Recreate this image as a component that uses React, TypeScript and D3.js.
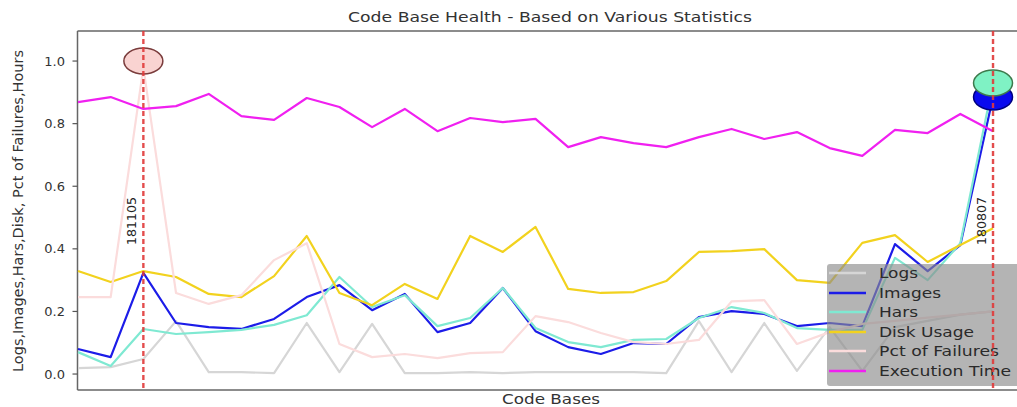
import React from 'react';
import * as d3 from 'd3';

const seriesNames = ['Logs', 'Images', 'Hars', 'Disk Usage', 'Pct of Failures', 'Execution Time'];
const seriesColors = ['#d6d6d6', '#1c1ce8', '#7fe9d2', '#f2d21e', '#fbdcdc', '#f020f0'];

const logs = [0.019, 0.022, 0.048, 0.169, 0.006, 0.006, 0.003, 0.163, 0.006, 0.160, 0.003, 0.003, 0.006, 0.003, 0.006, 0.006, 0.006, 0.006, 0.003, 0.169, 0.006, 0.163, 0.010, 0.150, 0.010, 0.150, 0.170, 0.190, 0.200];
const images = [0.080, 0.054, 0.323, 0.163, 0.150, 0.144, 0.176, 0.246, 0.284, 0.204, 0.256, 0.134, 0.163, 0.275, 0.137, 0.086, 0.064, 0.099, 0.096, 0.182, 0.201, 0.192, 0.153, 0.163, 0.153, 0.415, 0.329, 0.412, 0.885];
const hars = [0.070, 0.026, 0.144, 0.128, 0.134, 0.141, 0.157, 0.188, 0.310, 0.214, 0.252, 0.153, 0.179, 0.275, 0.147, 0.102, 0.086, 0.109, 0.112, 0.179, 0.214, 0.195, 0.147, 0.141, 0.141, 0.371, 0.300, 0.418, 0.930];
const diskUsage = [0.329, 0.294, 0.329, 0.310, 0.256, 0.246, 0.313, 0.441, 0.259, 0.220, 0.288, 0.240, 0.441, 0.390, 0.470, 0.272, 0.259, 0.262, 0.297, 0.390, 0.393, 0.399, 0.300, 0.291, 0.419, 0.444, 0.358, 0.412, 0.466];
const pctFailures = [0.246, 0.246, 0.980, 0.259, 0.224, 0.252, 0.364, 0.418, 0.096, 0.054, 0.064, 0.051, 0.067, 0.070, 0.185, 0.166, 0.131, 0.102, 0.096, 0.109, 0.232, 0.236, 0.096, 0.134, 0.160, 0.170, 0.180, 0.190, 0.200];
const executionTime = [0.869, 0.885, 0.847, 0.856, 0.895, 0.824, 0.812, 0.882, 0.853, 0.789, 0.847, 0.776, 0.818, 0.805, 0.815, 0.725, 0.757, 0.738, 0.725, 0.757, 0.783, 0.751, 0.773, 0.722, 0.697, 0.780, 0.770, 0.831, 0.776];

const yTicks = [0.0, 0.2, 0.4, 0.6, 0.8, 1.0];

const markerIndex = [2, 28];
const markerLabels = ['181105', '180807'];

const W = 1017;
const H = 407;

export default function App() {
  const series = [logs, images, hars, diskUsage, pctFailures, executionTime];
  const left = 77.5, top = 31, bottom = 390;
  const x = d3.scaleLinear().domain([0, 29]).range([78, 1025.7]);
  const y = d3.scaleLinear().domain([-0.051, 1.096]).range([bottom, top]);
  const line = d3.line<number>().x((_, i) => x(i)).y((d) => y(d));

  const font = 'DejaVu Sans, sans-serif';
  const legendY = [273, 293, 312, 332, 351, 371];
  const legendTextLen = [39, 62, 39, 95, 120, 132];

  return (
    <svg width={W} height={H} style={{ position: 'absolute', left: 0, top: 0, background: '#fff' }}>
      {/* spines */}
      <line x1={left} x2={W} y1={top} y2={top} stroke="#666" strokeWidth={1.5} />
      <line x1={left} x2={W} y1={bottom} y2={bottom} stroke="#666" strokeWidth={1.5} />
      <line x1={left} x2={left} y1={top} y2={bottom} stroke="#666" strokeWidth={1.5} />

      {/* y ticks */}
      {yTicks.map((t) => (
        <g key={t}>
          <line x1={left - 5} x2={left} y1={y(t)} y2={y(t)} stroke="#555" strokeWidth={1.2} />
          <text x={65} y={y(t)} dy="0.35em" textAnchor="end" fontFamily={font} fontSize={13} fill="#333">
            {d3.format('.1f')(t)}
          </text>
        </g>
      ))}

      {/* series lines */}
      {series.map((s, k) => (
        <path key={k} d={line(s) || ''} fill="none" stroke={seriesColors[k]} strokeWidth={2.2} strokeLinejoin="round" />
      ))}

      {/* highlight circles */}
      <ellipse cx={x(markerIndex[0])} cy={y(pctFailures[2] + 0.02)} rx={19.5} ry={13} fill="#f9d3d1" stroke="#7a3c3c" strokeWidth={1.5} />
      <ellipse cx={x(markerIndex[1])} cy={y(images[28])} rx={19.5} ry={13} fill="#0a0aee" stroke="#000080" strokeWidth={1.5} />
      <ellipse cx={x(markerIndex[1])} cy={y(hars[28])} rx={19.5} ry={13} fill="#7ff2c4" stroke="#3d7a4c" strokeWidth={1.5} />

      {/* legend */}
      <rect x={827} y={264} width={200} height={122} rx={3} fill="#8c8c8c" fillOpacity={0.65} />
      {seriesNames.map((n, k) => (
        <g key={n}>
          <line x1={829} x2={866} y1={legendY[k]} y2={legendY[k]} stroke={seriesColors[k]} strokeWidth={2.5} />
          <text x={879} y={legendY[k]} dy="0.36em" fontFamily={font} fontSize={14.5} fill="#2a2a2a"
            textLength={legendTextLen[k]} lengthAdjust="spacingAndGlyphs">
            {n}
          </text>
        </g>
      ))}

      {/* red dashed verticals and labels */}
      {markerIndex.map((mi, k) => (
        <g key={mi}>
          <line x1={x(mi)} x2={x(mi)} y1={top} y2={bottom} stroke="#e03a3a" strokeWidth={2.4} strokeDasharray="5,3" strokeOpacity={0.9} />
          <text transform={`translate(${x(mi) - 7},${221}) rotate(-90)`} textAnchor="middle" fontFamily={font} fontSize={13} fill="#222"
            textLength={48} lengthAdjust="spacingAndGlyphs">
            {markerLabels[k]}
          </text>
        </g>
      ))}

      {/* title and axis labels */}
      <text x={550} y={22} textAnchor="middle" fontFamily={font} fontSize={13.5} fill="#333" textLength={404} lengthAdjust="spacingAndGlyphs">
        Code Base Health - Based on Various Statistics
      </text>
      <text x={551} y={404} textAnchor="middle" fontFamily={font} fontSize={14} fill="#333" textLength={98} lengthAdjust="spacingAndGlyphs">
        Code Bases
      </text>
      <text transform={`translate(23,${211}) rotate(-90)`} textAnchor="middle" fontFamily={font} fontSize={14} fill="#333"
        textLength={322} lengthAdjust="spacingAndGlyphs">
        Logs,Images,Hars,Disk, Pct of Failures,Hours
      </text>
    </svg>
  );
}
